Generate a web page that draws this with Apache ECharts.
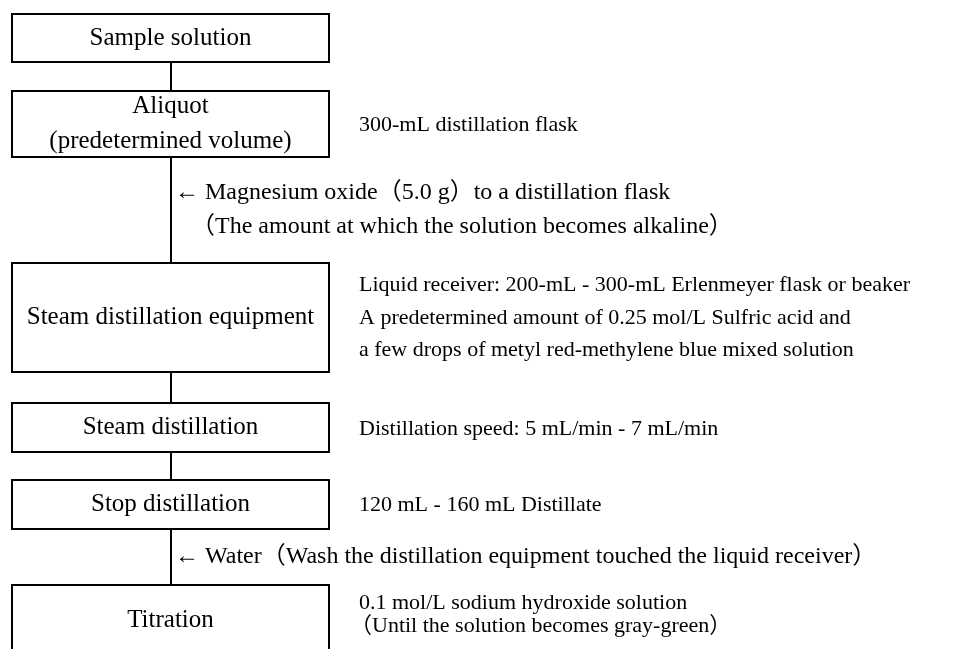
<!DOCTYPE html>
<html><head><meta charset="utf-8">
<script src="https://cdn.jsdelivr.net/npm/echarts@6/dist/echarts.min.js"></script>
<style>html,body{margin:0;padding:0;background:#fff}#c{width:967px;height:649px}</style>
</head><body><div id="c"></div>
<script>
// Flow steps (boxes) and their vertical extents on the (hidden) y axis
const steps = ['Sample solution', 'Aliquot\n(predetermined volume)', 'Steam distillation equipment', 'Steam distillation', 'Stop distillation', 'Titration'];
const stepTop = [14, 91, 263, 403, 480, 585];
const stepBottom = [62, 157, 372, 452, 529, 655];
// Notes at the right side of the boxes
const sideNotes = ['300-mL distillation flask',
  'Liquid receiver: 200-mL - 300-mL Erlenmeyer flask or beaker',
  'A predetermined amount of 0.25 mol/L Sulfric acid and',
  'a few drops of metyl red-methylene blue mixed solution',
  'Distillation speed: 5 mL/min - 7 mL/min',
  '120 mL - 160 mL Distillate',
  '0.1 mol/L sodium hydroxide solution',
  '（Until the solution becomes gray-green）'];
const sideNoteY = [125, 285, 318, 350, 429, 505, 603, 626];
// Notes along connectors (reagent additions)
const arrowNotes = ['← Magnesium oxide（5.0 g）to a distillation flask',
  '（The amount at which the solution becomes alkaline）',
  '← Water（Wash the distillation equipment touched the liquid receiver）'];
const arrowNoteY = [193, 227, 557];

const FONT = '"Liberation Serif","Noto Sans CJK JP",serif';
const FS_BOX = 25, FS_NOTE = 22, FS_ARROW = 24;
const BOX_L = 12, BOX_R = 329, CONN_X = 171, NOTE_X = 359, ARROW_X = 175;

const chart = echarts.init(document.getElementById('c'), null, {renderer: 'canvas'});
chart.setOption({
  animation: false,
  backgroundColor: '#fff',
  grid: {left: 0, right: 0, top: 0, bottom: 0},
  xAxis: {type: 'value', min: 0, max: 967, show: false},
  yAxis: {type: 'value', min: 0, max: 649, inverse: true, show: false},
  series: [
    { // connectors
      type: 'custom', silent: true,
      data: steps.slice(1).map((s, i) => [stepBottom[i], stepTop[i + 1]]),
      renderItem: (params, api) => {
        const a = api.coord([CONN_X, api.value(0)]);
        const b = api.coord([CONN_X, api.value(1)]);
        return {type: 'line', shape: {x1: a[0], y1: a[1], x2: b[0], y2: b[1]},
          style: {stroke: '#000', lineWidth: 2}};
      }
    },
    { // boxes
      type: 'custom', silent: true,
      data: steps.map((s, i) => [stepTop[i], stepBottom[i], i]),
      renderItem: (params, api) => {
        const tl = api.coord([BOX_L, api.value(0)]);
        const br = api.coord([BOX_R, api.value(1)]);
        const label = steps[api.value(2)];
        return {type: 'group', children: [
          {type: 'rect', shape: {x: tl[0], y: tl[1], width: br[0] - tl[0], height: br[1] - tl[1]},
            style: {fill: '#fff', stroke: '#000', lineWidth: 2}},
          {type: 'text', style: {text: label, x: (tl[0] + br[0]) / 2, y: (tl[1] + br[1]) / 2,
            align: 'center', verticalAlign: 'middle', font: FS_BOX + 'px ' + FONT, lineHeight: 35, fill: '#000'}}
        ]};
      }
    },
    { // side notes
      type: 'custom', silent: true,
      data: sideNotes.map((s, i) => [sideNoteY[i], i]),
      renderItem: (params, api) => {
        const p = api.coord([NOTE_X, api.value(0)]);
        const t = sideNotes[api.value(1)];
        const dx = t.startsWith('（') ? -9 : 0;
        return {type: 'text', style: {text: t, x: p[0] + dx, y: p[1], align: 'left', verticalAlign: 'middle',
          font: FS_NOTE + 'px ' + FONT, fill: '#000'}};
      }
    },
    { // arrow notes
      type: 'custom', silent: true,
      data: arrowNotes.map((s, i) => [arrowNoteY[i], i]),
      renderItem: (params, api) => {
        const t = arrowNotes[api.value(1)];
        const x = t.startsWith('（') ? ARROW_X + 16 : ARROW_X;
        const p = api.coord([x, api.value(0)]);
        return {type: 'text', style: {text: t, x: p[0], y: p[1], align: 'left', verticalAlign: 'middle',
          font: FS_ARROW + 'px ' + FONT, fill: '#000'}};
      }
    }
  ]
});
</script></body></html>
